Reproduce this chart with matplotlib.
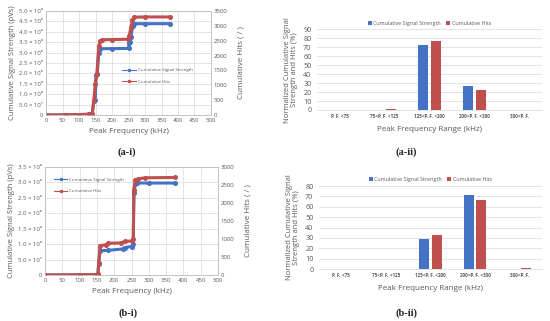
import matplotlib
matplotlib.use("Agg")
import matplotlib.pyplot as plt
from matplotlib.lines import Line2D

plt.rcParams['font.family'] = ['Open Sans', 'DejaVu Sans']

BLUE = '#4472C4'
RED = '#C0504D'
TXT = '#595959'
GRID = '#D9D9D9'

# ---------------- data ----------------
# (a-i) cumulative signal strength (x1e8 pVs) and hits vs peak frequency (kHz)
a_sig_f = [0, 60, 100, 130, 140, 145, 149, 152, 155, 160, 164, 200, 250, 252, 255, 257, 263, 267, 300, 376]
a_sig_v = [0.0, 0.005, 0.015, 0.03, 0.05, 0.65, 0.7, 1.9, 1.95, 3.0, 3.19, 3.19, 3.2, 3.45, 3.5, 3.75, 4.3, 4.39, 4.39, 4.39]
a_hit_f = [0, 60, 100, 130, 140, 145, 149, 154, 160, 164, 169, 200, 250, 252, 257, 262, 267, 300, 376]
a_hit_v = [0, 5, 15, 30, 50, 490, 1050, 1365, 2310, 2485, 2530, 2540, 2550, 2660, 2940, 3185, 3290, 3300, 3300]

# (b-i)
b_sig_f = [0, 100, 150, 153, 155, 159, 183, 226, 230, 250, 255, 257, 261, 266, 300, 375]
b_sig_v = [0.0, 0.005, 0.01, 0.03, 0.35, 0.79, 0.8, 0.845, 0.89, 0.92, 1.0, 2.65, 2.95, 2.98, 2.98, 2.98]
b_hit_f = [0, 100, 150, 153, 155, 159, 175, 183, 220, 230, 250, 255, 257, 261, 270, 290, 375]
b_hit_v = [0, 5, 10, 25, 330, 814, 840, 883, 890, 934, 945, 1011, 2374, 2630, 2674, 2700, 2710]

freq_ticks = [0, 50, 100, 150, 200, 250, 300, 350, 400, 450, 500]
a_left_ticks = [0, 0.5, 1.0, 1.5, 2.0, 2.5, 3.0, 3.5, 4.0, 4.5, 5.0]
a_left_labels = ['0', '5.0 × 10⁷', '1.0 × 10⁸', '1.5 × 10⁸', '2.0 × 10⁸', '2.5 × 10⁸',
                 '3.0 × 10⁸', '3.5 × 10⁸', '4.0 × 10⁸', '4.5 × 10⁸', '5.0 × 10⁸']
a_right_ticks = [0, 500, 1000, 1500, 2000, 2500, 3000, 3500]
b_left_ticks = [0, 0.5, 1.0, 1.5, 2.0, 2.5, 3.0, 3.5]
b_left_labels = ['0', '5.0 × 10⁷', '1.0 × 10⁸', '1.5 × 10⁸', '2.0 × 10⁸', '2.5 × 10⁸',
                 '3.0 × 10⁸', '3.5 × 10⁸']
b_right_ticks = [0, 500, 1000, 1500, 2000, 2500, 3000]

categories = ['P. F. <75', '75<P. F. <125', '125<P. F. <200', '200<P. F. <300', '300<P. F.']
a_bar_sig = [0, 0.2, 73, 27, 0]
a_bar_hit = [0, 1.0, 77, 22.5, 0]
b_bar_sig = [0, 0, 28.5, 71, 0]
b_bar_hit = [0, 0, 32.5, 66.5, 1.2]

W, H = 550, 321
fig = plt.figure(figsize=(W / 100, H / 100), dpi=100)


def rect(x0, y0, x1, y1):
    return [x0 / W, (H - y1) / H, (x1 - x0) / W, (y1 - y0) / H]


def line_panel(r, sf, sv, hf, hv, lt, ll, rt, legend_pos):
    ax = fig.add_axes(r)
    ax2 = ax.twinx()
    ax.set_xlim(0, 500)
    ax.set_ylim(0, lt[-1])
    ax2.set_ylim(0, rt[-1])
    ax.set_xticks(freq_ticks)
    ax.set_yticks(lt)
    ax.set_yticklabels(ll)
    ax2.set_yticks(rt)
    ax.grid(True, color=GRID, lw=0.5)
    ax.set_axisbelow(True)
    for a in (ax, ax2):
        a.tick_params(length=0, labelsize=4.3, colors=TXT, pad=2)
        for s in a.spines.values():
            s.set_color('#BFBFBF')
            s.set_linewidth(0.5)
    ax.plot(sf, sv, color=BLUE, lw=2.2, marker='o', ms=2.6, solid_joinstyle='miter')
    ax2.plot(hf, hv, color=RED, lw=2.2, marker='o', ms=2.6, solid_joinstyle='miter')
    ax.set_xlabel('Peak Frequency (kHz)', fontsize=5.8, color=TXT, labelpad=4)
    ax.set_ylabel('Cumulative Signal Strength (pVs)', fontsize=5.5, color=TXT, labelpad=2)
    ax2.set_ylabel('Cumulative Hits ( / )', fontsize=5.8, color=TXT, labelpad=7)
    h1 = Line2D([], [], color=BLUE, lw=0.8, marker='o', ms=1.5)
    h2 = Line2D([], [], color=RED, lw=0.8, marker='o', ms=1.5)
    leg = ax.legend([h1, h2], ['Cumulative Signal Strength', 'Cumulative Hits'],
                    loc='upper left', bbox_to_anchor=legend_pos, frameon=False,
                    fontsize=3.2, handlelength=3, labelspacing=1.6, handletextpad=0.4,
                    borderpad=0)
    for t in leg.get_texts():
        t.set_color(TXT)
    return ax, ax2


line_panel(rect(46, 11, 211, 115), a_sig_f, a_sig_v, a_hit_f, a_hit_v,
           a_left_ticks, a_left_labels, a_right_ticks, (0.45, 0.47))
line_panel(rect(45, 167, 218, 275), b_sig_f, b_sig_v, b_hit_f, b_hit_v,
           b_left_ticks, b_left_labels, b_right_ticks, (0.04, 0.92))


def bar_panel(r, sig, hit, ymax):
    ax = fig.add_axes(r)
    x = list(range(len(categories)))
    w = 0.22
    ax.bar([i - 0.14 for i in x], sig, width=w, color=BLUE, label='Cumulative Signal Strength', zorder=3)
    ax.bar([i + 0.14 for i in x], hit, width=w, color=RED, label='Cumulative Hits', zorder=3)
    ax.set_xlim(-0.5, len(categories) - 0.5)
    ax.set_ylim(0, ymax)
    ax.set_yticks(list(range(0, ymax + 1, 10)))
    ax.set_xticks(x)
    ax.set_xticklabels(categories, fontsize=3.3, color=TXT, fontweight='bold')
    ax.yaxis.grid(True, color=GRID, lw=0.5)
    ax.tick_params(length=0, colors=TXT)
    ax.tick_params(axis='y', labelsize=5.2, pad=4)
    ax.tick_params(axis='x', pad=3)
    for k, s in ax.spines.items():
        if k == 'bottom':
            s.set_color('#D9D9D9')
            s.set_linewidth(0.5)
        else:
            s.set_visible(False)
    ax.set_xlabel('Peak Frequency Range (kHz)', fontsize=5.8, color=TXT, labelpad=5)
    ax.set_ylabel('Normalized Cumulative Signal\nStrength and Hits (%)', fontsize=5.5,
                  color=TXT, labelpad=4, linespacing=1.0)
    leg = ax.legend(loc='lower center', bbox_to_anchor=(0.5, 1.0), ncol=2, frameon=False,
                    fontsize=3.9, handlelength=0.7, handleheight=0.7, handletextpad=0.3,
                    columnspacing=1.0, borderpad=0.2)
    for t in leg.get_texts():
        t.set_color(TXT)
    return ax


bar_panel(rect(317, 29.3, 542, 110), a_bar_sig, a_bar_hit, 90)
bar_panel(rect(319, 186, 542, 269), b_bar_sig, b_bar_hit, 80)

cap = dict(fontsize=7.5, fontweight='bold', family='Liberation Serif', ha='center', va='center', color='#222222')
fig.text(127 / W, 1 - 152 / H, '(a-i)', **cap)
fig.text(406 / W, 1 - 152 / H, '(a-ii)', **cap)
fig.text(128 / W, 1 - 313 / H, '(b-i)', **cap)
fig.text(407 / W, 1 - 313 / H, '(b-ii)', **cap)

fig.savefig('out.png', dpi=100)
